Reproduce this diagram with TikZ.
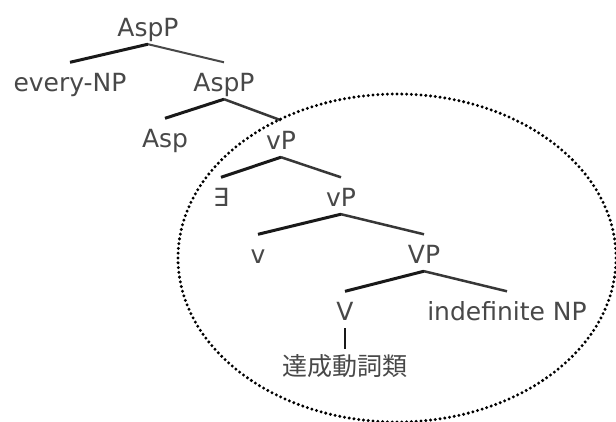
\documentclass[tikz,border=0pt]{standalone}
\usepackage{fontspec}
\setmainfont{DejaVu Sans}
\newfontfamily\jpfont{Noto Sans CJK JP}
\definecolor{labelgray}{RGB}{72,72,72}
\definecolor{branchdark}{RGB}{25,25,25}
\definecolor{branchlight}{RGB}{55,55,55}
\tikzset{
  cat/.style={anchor=base, text=labelgray, font=\fontsize{25}{28}\selectfont,
    text height=26pt, text depth=5.5pt, inner xsep=0pt, inner ysep=2.5pt},
  wordnode/.style={text=labelgray, font=\jpfont\fontsize{25}{28}\selectfont,
    inner xsep=0pt, inner ysep=5.5pt},
  leftbranch/.style={draw=branchdark, line width=3pt},
  rightbranch/.style={draw=branchlight, line width=2.5pt},
  unarybranch/.style={draw=branchdark, line width=2.4pt},
  scopering/.style={draw=black, line width=3.3pt, dash pattern=on 0pt off 4.8pt, line cap=round}
}
\begin{document}
\begin{tikzpicture}[x=1pt, y=-1pt]
\useasboundingbox (0,0) rectangle (616,421);
\clip (0,0) rectangle (616,421);
\fill[white] (0,0) rectangle (616,421);

% tree labels (positions are baselines)
\node[cat] (asp1) at (148,36) {AspP};
\node[cat] (every) at (70,91) {every-NP};
\node[cat] (asp2) at (224,91) {AspP};
\node[cat] (asp) at (165,147) {Asp};
\node[cat] (vp1) at (281,149) {vP};
\node[cat] (ex) at (221,206) {∃};
\node[cat] (vp2) at (341,206) {vP};
\node[cat] (lv) at (258,263) {v};
\node[cat] (VP) at (424,263) {VP};
\node[cat] (V) at (345,320) {V};
\node[cat] (indef) at (507,320) {indefinite NP};
\node[wordnode] (word) at (345,366) {達成動詞類};

% branches
\draw[leftbranch] (asp1.south) -- (every.north);
\draw[rightbranch, line width=2pt, draw=labelgray] (asp1.south) -- (asp2.north);
\draw[leftbranch] (asp2.south) -- (asp.north);
\draw[rightbranch] (asp2.south) -- (vp1.north);
\draw[leftbranch] (vp1.south) -- (ex.north);
\draw[rightbranch] (vp1.south) -- (vp2.north);
\draw[leftbranch] (vp2.south) -- (lv.north);
\draw[rightbranch] (vp2.south) -- (VP.north);
\draw[leftbranch] (VP.south) -- (V.north);
\draw[rightbranch] (VP.south) -- (indef.north);
\draw[unarybranch] (V.south) -- (word.north);

% dotted ring around the vP domain
\draw[scopering] (397,258) ellipse [x radius=219, y radius=164];
\end{tikzpicture}
\end{document}
